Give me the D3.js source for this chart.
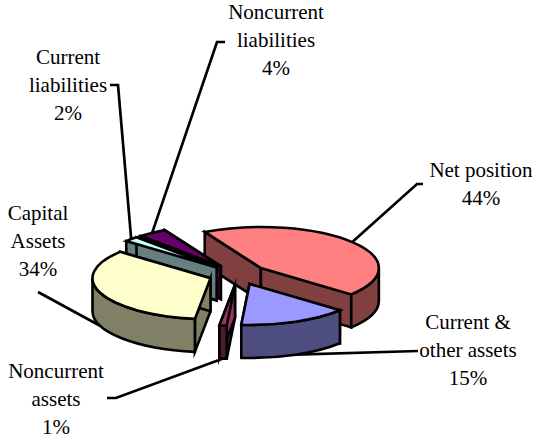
<!DOCTYPE html>
<html>
<head>
<meta charset="utf-8">
<style>
  body { margin: 0; background: #fff; }
  text { font-family: "Liberation Serif", serif; font-size: 21px; fill: #000; text-anchor: middle; }
</style>
<script src="https://cdn.jsdelivr.net/npm/d3@7"></script>
</head>
<body>
<div id="chart"></div>
<script>
const categories = ['Net position', 'Current & other assets', 'Noncurrent assets', 'Capital Assets', 'Current liabilities', 'Noncurrent liabilities']
const values = [44, 15, 1, 34, 2, 4]
const labelLines = [
  ['Net position', '44%'],
  ['Current &', 'other assets', '15%'],
  ['Noncurrent', 'assets', '1%'],
  ['Capital', 'Assets', '34%'],
  ['Current', 'liabilities', '2%'],
  ['Noncurrent', 'liabilities', '4%']
]
const topColors = ['#ff8080', '#9999ff', '#993366', '#ffffcc', '#ccffff', '#660066']
const sideColors = ['#804040', '#4d4d80', '#4d1a33', '#808066', '#668080', '#330033']

const width = 537
const height = 440
const cx = 238
const cy = 274.5
const rx = 118
const ry = 41
const depth = 33
const explode = 0.25
const startAngle = -28.4 * Math.PI / 180

// label position (centre x, first baseline) and the elbows of each leader line
const labelPos = [[481, 177], [468, 329], [56, 378], [38, 220], [68, 64], [276, 19]]
const leaderBends = [
  [[417, 184], [423, 184]],
  [[418, 351]],
  [[116, 398], [107, 398]],
  [[38, 292]],
  [[118, 85], [110, 85]],
  [[217, 42], [225, 42]]
]
const drawOrder = [0, 5, 4, 3, 2, 1]

const svg = d3.select('#chart')
  .append('svg')
  .attr('width', width)
  .attr('height', height)

const slices = d3.pie()
  .sort(null)
  .startAngle(startAngle)
  .endAngle(startAngle + 2 * Math.PI)(values)

const project = (a, r = 1) => [r * rx * Math.sin(a), -r * ry * Math.cos(a)]

const geometry = slices.map(s => {
  const mid = (s.startAngle + s.endAngle) / 2
  const off = project(mid, explode)
  const apex = [cx + off[0], cy + off[1]]
  const at = a => {
    const p = project(a)
    return [apex[0] + p[0], apex[1] + p[1]]
  }
  return { apex, at, mid, a0: s.startAngle, a1: s.endAngle }
})

function arcTo (g, a0, a1, dy, reverse) {
  const p = g.at(reverse ? a0 : a1)
  const large = a1 - a0 > Math.PI ? 1 : 0
  return `A${rx} ${ry} 0 ${large} ${reverse ? 0 : 1} ${p[0]} ${p[1] + dy}`
}

function wallPath (g, a) {
  const p = g.at(a)
  const q = g.apex
  return `M${q[0]} ${q[1]}L${p[0]} ${p[1]}L${p[0]} ${p[1] + depth}L${q[0]} ${q[1] + depth}Z`
}

// part of the rim that faces the viewer, angles between 90 and 270 degrees
function rimPath (g) {
  const lo = Math.max(g.a0, Math.PI / 2)
  const hi = Math.min(g.a1, 1.5 * Math.PI)
  if (lo >= hi) return null
  const p = g.at(lo)
  const q = g.at(hi)
  return `M${p[0]} ${p[1]}` + arcTo(g, lo, hi, 0, false) +
    `L${q[0]} ${q[1] + depth}` + arcTo(g, lo, hi, depth, true) + 'Z'
}

function topPath (g) {
  const p = g.at(g.a0)
  return `M${g.apex[0]} ${g.apex[1]}L${p[0]} ${p[1]}` + arcTo(g, g.a0, g.a1, 0, false) + 'Z'
}

drawOrder.forEach(i => {
  const g = geometry[i]
  const group = svg.append('g')
    .attr('stroke', '#000')
    .attr('stroke-width', 2.6)
    .attr('stroke-linejoin', 'miter')
    .attr('stroke-miterlimit', 6)

  group.append('path').attr('d', wallPath(g, g.a0)).attr('fill', sideColors[i])
  group.append('path').attr('d', wallPath(g, g.a1)).attr('fill', i === 2 ? topColors[i] : sideColors[i])
  const rim = rimPath(g)
  if (rim) group.append('path').attr('d', rim).attr('fill', sideColors[i])
  group.append('path').attr('d', topPath(g)).attr('fill', topColors[i])
})

const line = d3.line()

categories.forEach((name, i) => {
  const g = geometry[i]
  const edge = g.at(g.mid)
  const front = Math.cos(g.mid) < 0
  const start = [edge[0], edge[1] + (front ? depth : 0)]

  svg.append('path')
    .attr('d', line([start, ...leaderBends[i]]))
    .attr('fill', 'none')
    .attr('stroke', '#000')
    .attr('stroke-width', 2.7)

  const text = svg.append('text')
    .attr('x', labelPos[i][0])
    .attr('y', labelPos[i][1])
  labelLines[i].forEach((t, j) => {
    text.append('tspan')
      .attr('x', labelPos[i][0])
      .attr('dy', j === 0 ? 0 : 28)
      .text(t)
  })
})
</script>
</body>
</html>
